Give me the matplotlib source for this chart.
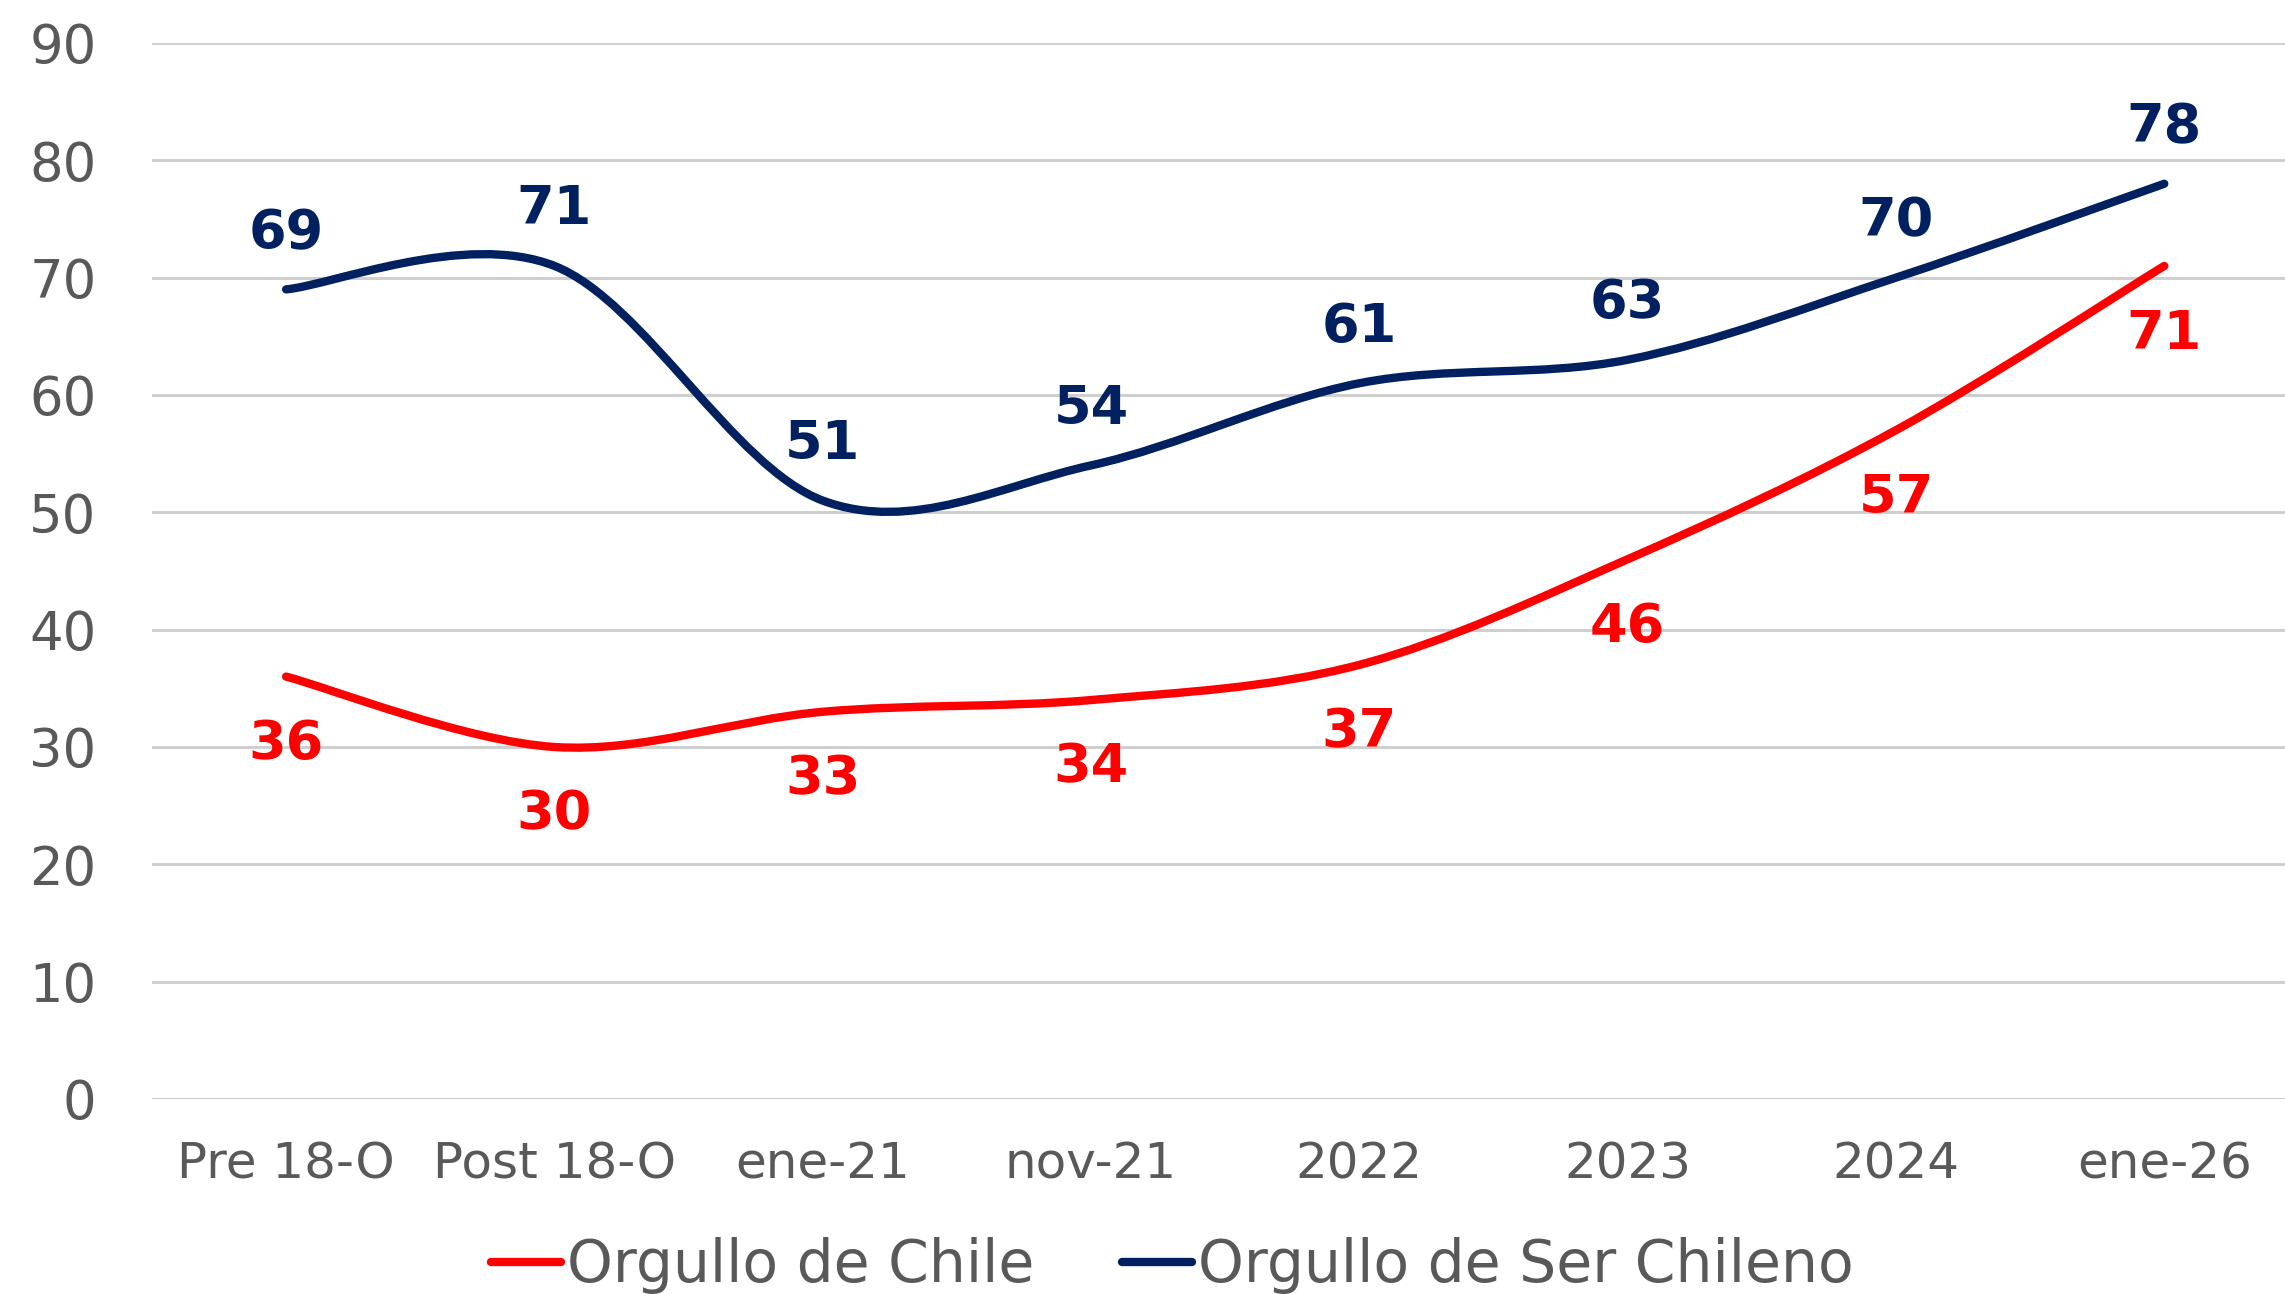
import numpy as np
import matplotlib.pyplot as plt
from matplotlib.path import Path
from matplotlib.patches import PathPatch
from matplotlib.lines import Line2D

plt.rcParams["font.family"] = ["DejaVu Sans"]

categories = ["Pre 18-O", "Post 18-O", "ene-21", "nov-21", "2022", "2023", "2024", "ene-26"]
orgullo_chile = [36, 30, 33, 34, 37, 46, 57, 71]
orgullo_ser_chileno = [69, 71, 51, 54, 61, 63, 70, 78]

red = "#FF0000"
navy = "#002060"
gray_text = "#595959"
grid_gray = "#CFCFCF"


def smooth_path(x, y):
    # Excel-like smoothed line: cubic Bezier with Catmull-Rom control points
    pts = np.column_stack([x, y]).astype(float)
    n = len(pts)
    verts = [pts[0]]
    codes = [Path.MOVETO]
    for i in range(n - 1):
        p0 = pts[max(i - 1, 0)]
        p1 = pts[i]
        p2 = pts[i + 1]
        p3 = pts[min(i + 2, n - 1)]
        c1 = p1 + (p2 - p0) / 6.0
        c2 = p2 - (p3 - p1) / 6.0
        verts += [c1, c2, p2]
        codes += [Path.CURVE4] * 3
    return Path(verts, codes)


fig = plt.figure(figsize=(22.85, 12.94), dpi=100)
ax = fig.add_axes([0.0665, 0.1507, 0.9335, 0.8161])

x = np.arange(len(categories))
for vals, col, va, off in [(orgullo_chile, red, "top", -30),
                           (orgullo_ser_chileno, navy, "bottom", 22)]:
    patch = PathPatch(smooth_path(x, vals), facecolor="none", edgecolor=col,
                      linewidth=6, capstyle="round", zorder=3)
    ax.add_patch(patch)
    for xi, v in zip(x, vals):
        ax.annotate(str(v), (xi, v), xytext=(0, off), textcoords="offset points",
                    ha="center", va=va, color=col, fontsize=39,
                    fontweight="bold")

ax.set_xlim(-0.5, 7.45)
ax.set_ylim(0, 90)
ax.set_yticks(np.arange(0, 91, 10))
ax.set_xticks(x)
ax.set_xticklabels(categories)
ax.tick_params(axis="both", length=0, labelsize=38, labelcolor=gray_text)
ax.tick_params(axis="y", pad=40)
ax.tick_params(axis="x", pad=30)
for lab in ax.get_xticklabels():
    lab.set_fontsize(36)

ax.grid(axis="y", color=grid_gray, linewidth=2.2)
ax.set_axisbelow(True)
for sp in ax.spines.values():
    sp.set_visible(False)

handles = [Line2D([], [], color=red, linewidth=6, solid_capstyle="round"),
           Line2D([], [], color=navy, linewidth=6, solid_capstyle="round")]
fig.legend(handles, ["Orgullo de Chile", "Orgullo de Ser Chileno"],
           loc="center", bbox_to_anchor=(0.513, 0.022), ncol=2, frameon=False,
           fontsize=42, labelcolor=gray_text, handlelength=1.2,
           handletextpad=0.1, columnspacing=1.5)

fig.savefig("out.png", dpi=100)
